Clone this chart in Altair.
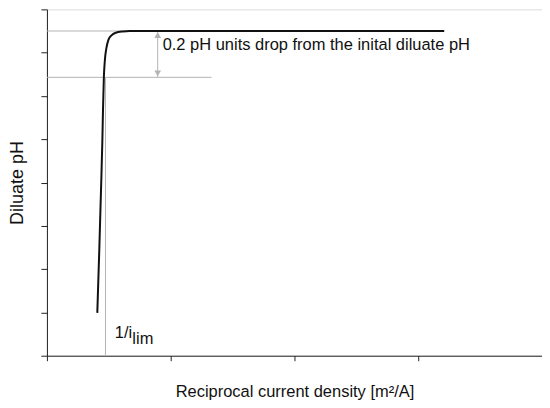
import altair as alt
import pandas as pd

# curve (reciprocal current density vs diluate pH, arbitrary units)
recip_cd = [0.407, 0.423, 0.437, 0.448, 0.453, 0.460, 0.468, 0.480, 0.496, 0.522, 0.556, 0.613, 0.669, 3.21]
diluate_ph = [0.99, 2.44, 3.83, 4.98, 5.67, 6.43, 6.82, 7.10, 7.29, 7.40, 7.46, 7.49, 7.50, 7.50]

ph_start = 7.50      # initial diluate pH level
ph_drop = 6.43       # 0.2 pH units below it
x_lim = 0.473        # 1/i_lim
arrow_x = 0.895

x_ticks = [0, 1, 2, 3, 4]
y_ticks = [0, 1, 2, 3, 4, 5, 6, 7, 8]

FONT = "Liberation Sans"
GREY = "#b4b4b4"
FS = 16.5

curve_df = pd.DataFrame({"x": recip_cd, "y": diluate_ph})

x_enc = alt.X("x:Q", scale=alt.Scale(domain=[0, 4], nice=False, zero=False),
              title="Reciprocal current density [m²/A]",
              axis=alt.Axis(values=x_ticks, labels=False, grid=False, tickSize=5,
                            domainColor="#222", tickColor="#222", titlePadding=22,
                            titleFont=FONT, titleFontSize=FS, titleFontWeight="normal",
                            titleColor="#111"))
y_enc = alt.Y("y:Q", scale=alt.Scale(domain=[0, 8], nice=False, zero=False),
              title="Diluate pH",
              axis=alt.Axis(values=y_ticks, labels=False, grid=False, tickSize=6,
                            domainColor="#222", tickColor="#222", titlePadding=14,
                            titleFont=FONT, titleFontSize=18, titleFontWeight="normal",
                            titleColor="#111"))

# grey guide lines
guides = pd.DataFrame({
    "x": [0, 0, x_lim],
    "x2": [0.65, 1.33, x_lim],
    "y": [ph_start, ph_drop, 0],
    "y2": [ph_start, ph_drop, ph_drop],
})
guide_rules = alt.Chart(guides).mark_rule(color=GREY, strokeWidth=1).encode(
    x=x_enc, x2="x2:Q", y=y_enc, y2="y2:Q")

arrow_df = pd.DataFrame({"x": [arrow_x], "y": [ph_drop], "y2": [ph_start]})
arrow_shaft = alt.Chart(arrow_df).mark_rule(color=GREY, strokeWidth=1).encode(
    x="x:Q", y="y:Q", y2="y2:Q")

head_top = alt.Chart(pd.DataFrame({"x": [arrow_x], "y": [ph_start]})).mark_point(
    shape="triangle-up", filled=True, color=GREY, size=45, opacity=1).encode(
    x="x:Q", y="y:Q", yOffset=alt.value(4))
head_bot = alt.Chart(pd.DataFrame({"x": [arrow_x], "y": [ph_drop]})).mark_point(
    shape="triangle-down", filled=True, color=GREY, size=45, opacity=1).encode(
    x="x:Q", y="y:Q", yOffset=alt.value(-4))

curve = alt.Chart(curve_df).mark_line(color="#111", strokeWidth=2, interpolate="monotone").encode(
    x="x:Q", y="y:Q")

notes = pd.DataFrame({
    "x": [0.935, 0.548, 0.69],
    "y": [7.17, 0.53, 0.39],
    "label": ["0.2 pH units drop from the inital diluate pH", "1/i", "lim"],
})
note_text = alt.Chart(notes).mark_text(align="left", baseline="middle", font=FONT,
                                       fontSize=FS, color="#111").encode(
    x="x:Q", y="y:Q", text="label:N")

chart = alt.layer(guide_rules, arrow_shaft, head_top, head_bot, curve, note_text).properties(
    width=496, height=347,
    autosize=alt.AutoSizeParams(type="none"),
    padding={"left": 39, "top": 1, "right": 0, "bottom": 44},
).configure_view(stroke=None).configure(background="white")

chart.save("out.html", embed_options={"renderer": "svg", "actions": False})
